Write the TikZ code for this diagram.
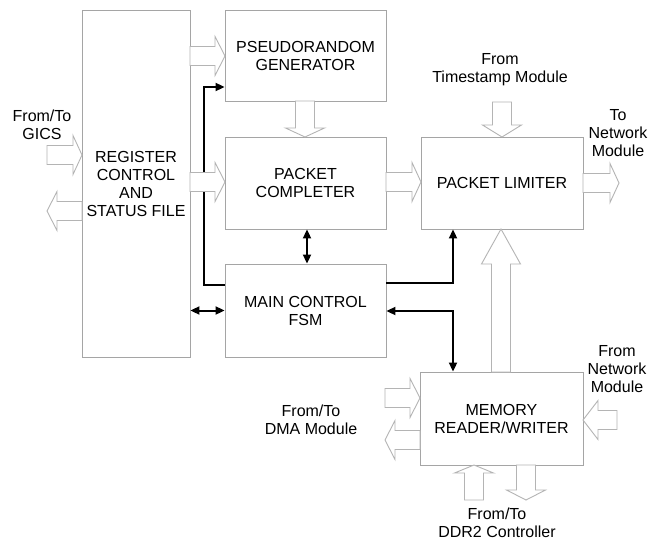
\documentclass[tikz,border=0pt]{standalone}
\usepackage{fontspec}
\setmainfont{Liberation Sans}
\usetikzlibrary{arrows.meta,calc}
\definecolor{boxgray}{RGB}{165,165,165}
\definecolor{arrgray}{RGB}{180,180,180}
\tikzset{
  box/.style={draw=boxgray, line width=0.9pt, fill=white, align=center, inner sep=0pt,
    font=\fontsize{16}{18}\selectfont},
  lbl/.style={align=center, inner sep=0pt, font=\fontsize{16}{18}\selectfont},
  hollow/.style={draw=arrgray, line width=0.9pt, fill=white, line join=miter},
  ctl/.style={line width=2pt, -{Triangle[length=9pt,width=8pt]}},
  ctlb/.style={line width=2pt, {Triangle[length=9pt,width=8pt]}-{Triangle[length=9pt,width=8pt]}},
  ctln/.style={line width=2pt}
}
% block arrow: tip x, tip y, rotation, total length, head length
\newcommand{\blockarr}[5]{%
  \begin{scope}[shift={(#1,#2)},rotate=#3]
    \draw[hollow] (0,0) -- (-#5,19.5) -- (-#5,9.5) -- (-#4,9.5) -- (-#4,-9.5) -- (-#5,-9.5) -- (-#5,-19.5) -- cycle;
  \end{scope}}
\begin{document}
\begin{tikzpicture}[x=1pt,y=-1pt]
\useasboundingbox (0,0) rectangle (652,540);
\fill[white] (0,0) rectangle (652,540);

% boxes
\node[box, minimum width=108pt, minimum height=347pt] (reg) at (136,183.5) {};
\node[lbl] (regt) at (136,184) {REGISTER\\CONTROL\\AND\\STATUS FILE};
\node[box, minimum width=161pt, minimum height=91pt] (pr) at (305.5,55.5) {};
\node[lbl] (prt) at (305.5,56) {PSEUDORANDOM\\GENERATOR};
\node[box, minimum width=161pt, minimum height=92pt] (pc) at (305.5,183) {PACKET\\COMPLETER};
\node[box, minimum width=161pt, minimum height=93pt] (fsm) at (305.5,310.5) {MAIN CONTROL\\FSM};
\node[box, minimum width=162pt, minimum height=92pt] (lim) at (502,183) {PACKET LIMITER};
\node[box, minimum width=163pt, minimum height=93pt] (mem) at (501.5,418.5) {MEMORY\\READER/WRITER};

% external labels
\node[lbl] (gics) at (42,124.5) {From/To\\GICS};
\node[lbl] (ts) at (500,69.5) {From\\Timestamp Module};
\node[lbl] (netout) at (618,133) {To\\Network\\Module};
\node[lbl] (netin) at (617,369.5) {From\\Network\\Module};
\node[lbl] (dma) at (311,419.5) {From/To\\DMA Module};
\node[lbl] (ddr) at (497,522.5) {From/To\\DDR2 Controller};

% control connectors (black)
\draw[ctl] ([yshift=25.5pt]fsm.west) -- ++(-21,0) |- ([yshift=-31.5pt]pr.west);
\draw[ctl] ([yshift=27.5pt]fsm.east) -| ([xshift=-49pt]lim.south);
\draw[ctlb] ([yshift=-0.5pt]fsm.east) -| ([xshift=-48.5pt]mem.north);
\draw[ctlb] ([xshift=1.5pt]pc.south) -- ([xshift=1.5pt]fsm.north);
\draw[ctlb] (fsm.west) -- (fsm.west -| reg.east);

% hollow block arrows
\blockarr{225}{56}{0}{35}{10}
\blockarr{82}{155}{0}{35}{9}
\blockarr{47}{211}{180}{35}{10}
\blockarr{225}{182}{0}{35}{10}
\blockarr{305}{137}{-90}{36}{9}
\blockarr{421}{182}{0}{35}{9}
\blockarr{619}{183}{0}{36}{9}
\blockarr{502}{137}{-90}{35}{12}
\blockarr{501}{229}{90}{143}{35}
\blockarr{420}{398}{0}{35}{10}
\blockarr{385}{440}{180}{35}{10}
\blockarr{583}{420}{180}{34}{15}
\blockarr{474}{465}{90}{35}{8}
\blockarr{526}{500}{-90}{35}{10}
\end{tikzpicture}
\end{document}
